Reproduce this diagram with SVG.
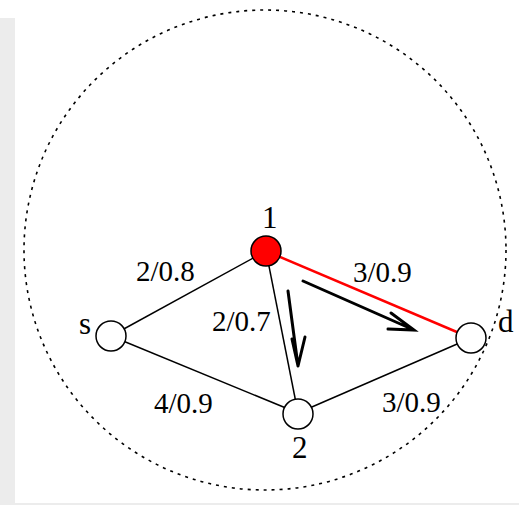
<svg xmlns="http://www.w3.org/2000/svg" width="519" height="505" viewBox="0 0 519 505">
<style>
.lbl{font-family:"Liberation Serif","Times New Roman",serif;font-size:29px;fill:#000}
.big{font-size:31px}
.edge{stroke:#000;stroke-width:1.5;fill:none}
.node{fill:#fff;stroke:#000;stroke-width:1.5}
.arr{stroke:#000;stroke-width:3;fill:none;stroke-linecap:round}
</style>
<rect x="0" y="0" width="519" height="505" fill="#fff"/>
<rect x="0" y="18" width="15" height="487" fill="#ececec"/>
<rect x="0" y="503" width="519" height="2" fill="#ececec"/>
<ellipse cx="265" cy="250" rx="241" ry="240" fill="none" stroke="#000" stroke-width="1.6" stroke-dasharray="3 5"/>
<g id="connectors">
<line class="edge" x1="111" y1="336" x2="266" y2="251"/>
<line class="edge" x1="111" y1="336" x2="298" y2="413"/>
<line class="edge" x1="266" y1="251" x2="298" y2="413"/>
<line class="edge" x1="298" y1="413" x2="471" y2="338"/>
<line x1="266" y1="251" x2="471" y2="338" stroke="#f00" stroke-width="2.5"/>
<path class="arr" d="M288 291 L298 366 M292 339 L298 366 L305 337"/>
<path class="arr" d="M303 281 L414 330 M391 313 L414 330 L388 329"/>
</g>
<g id="labels">
<text class="lbl" x="136" y="281">2/0.8</text>
<text class="lbl" x="212" y="331">2/0.7</text>
<text class="lbl" x="353" y="282">3/0.9</text>
<text class="lbl" x="154" y="413">4/0.9</text>
<text class="lbl" x="382" y="412">3/0.9</text>
</g>
<g id="node-s"><circle class="node" cx="111" cy="336" r="15"/><text class="lbl big" x="79" y="334">s</text></g>
<g id="node-1"><circle cx="266" cy="251" r="15" fill="#f00" stroke="#000" stroke-width="1.5"/><text class="lbl big" x="262" y="228">1</text></g>
<g id="node-d"><circle class="node" cx="471" cy="338" r="15"/><text class="lbl big" x="498" y="332">d</text></g>
<g id="node-2"><circle class="node" cx="298" cy="414" r="15"/><text class="lbl big" x="292" y="458">2</text></g>
</svg>
